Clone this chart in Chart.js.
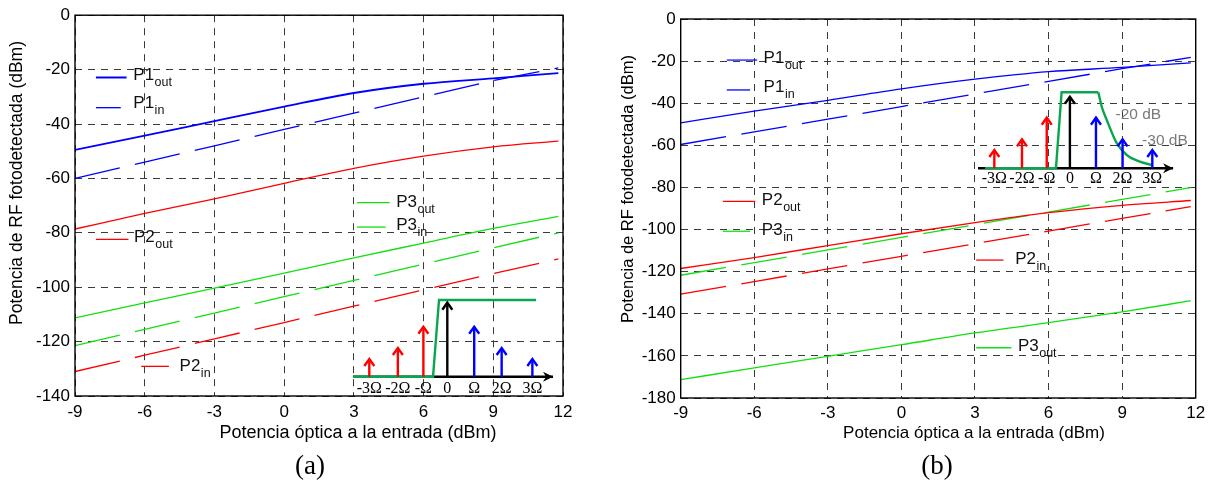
<!DOCTYPE html>
<html><head><meta charset="utf-8">
<script src="https://cdn.jsdelivr.net/npm/chart.js@4.4.1/dist/chart.umd.min.js"></script>
<style>
html,body{margin:0;padding:0;background:#fff;}
body{position:relative;width:1211px;height:483px;overflow:hidden;}
canvas{position:absolute;}
</style></head><body>
<canvas id="mainA" width="605" height="483" style="left:0px;top:0px"></canvas>
<canvas id="mainB" width="606" height="483" style="left:605px;top:0px"></canvas>
<canvas id="insetA" width="245" height="115" style="left:330px;top:285px"></canvas>
<canvas id="insetB" width="240" height="115" style="left:955px;top:75px"></canvas>
<script>
// ================= DATA =================
const X_POWER = [-9, -6, -3, 0, 3, 6, 9, 11.8];          // optical input power (dBm)
const X_RANGE = [-9, 12];
const X_TICK_STEP = 3;
const Y_TICK_STEP = 20;

// panel (a)
const A_Y_RANGE = [-140, 0];
const A_P1_OUT = [-49.5, -44.3, -38.9, -33.6, -28.6, -25.2, -23.2, -21.3];
const A_P1_IN  = [-60.0, -54.0, -48.0, -42.0, -36.0, -30.0, -24.0, -19.4];
const A_P2_OUT = [-78.6, -72.9, -67.5, -61.8, -56.3, -51.8, -48.4, -46.3];
const A_P2_IN  = [-131.0, -125.0, -119.0, -113.0, -107.0, -101.0, -95.0, -89.6];
const A_P3_OUT = [-111.3, -105.8, -100.3, -94.8, -89.2, -83.8, -78.4, -74.0];
const A_P3_IN  = [-121.5, -115.5, -109.5, -103.5, -97.5, -91.5, -85.5, -80.0];

// panel (b)
const B_Y_RANGE = [-180, 0];
const B_P1_OUT = [-49.3, -43.8, -38.6, -33.2, -28.6, -25.0, -23.0, -20.8];
const B_P1_IN  = [-59.6, -53.6, -47.6, -41.6, -35.6, -29.6, -23.6, -18.2];
const B_P2_OUT = [-118.5, -113.3, -107.6, -102.0, -96.7, -92.0, -88.5, -86.2];
const B_P2_IN  = [-130.7, -124.7, -118.7, -112.7, -106.7, -100.7, -94.7, -89.1];
const B_P3_OUT = [-171.3, -165.7, -160.2, -154.7, -149.1, -144.2, -139.1, -133.8];
const B_P3_IN  = [-121.7, -115.7, -109.7, -103.7, -97.7, -91.7, -85.7, -80.1];

// spectrum insets (schematic, relative units)
const OMEGA_POS    = [-3, -1.95, -1.01, -0.13, 0.86, 1.87, 3];
const OMEGA_LABELS = ['-3Ω', '-2Ω', '-Ω', '0', 'Ω', '2Ω', '3Ω'];
const A_TONE_LEVEL = [0.23, 0.374, 0.652, 0.965, 0.652, 0.374, 0.23];
const B_TONE_LEVEL = [0.24, 0.38, 0.666, 0.942, 0.666, 0.38, 0.24];
const A_AXIS_X     = [-3.6, 3.76];
const B_AXIS_X     = [-3.62, 3.79];
const A_FILTER_X   = [-3.6, -0.655, -0.435, 3.135];
const A_FILTER_Y   = [0, 0, 1, 1];
const B_FILTER_X   = [-3.35, -0.66, -0.445, 0.95];
const B_FILTER_Y   = [0, 0, 1, 1];
const B_ROLLOFF_X  = [0.95, 1.08, 1.27, 1.65, 2.03, 2.53, 2.98];
const B_ROLLOFF_Y  = [1, 0.81, 0.636, 0.33, 0.175, 0.087, 0.043];
const B_NOTES = [{text: '-20 dB', x: 2.47, y: 0.70}, {text: '-30 dB', x: 3.48, y: 0.36}];

// ================= STYLE / LAYOUT =================
const SANS  = "'Liberation Sans', Arial, Helvetica, sans-serif";
const SERIF = "'Liberation Serif', 'Times New Roman', Times, serif";
const BLUE = '#0000ff', RED = '#ff0000', GREEN = '#11e011', FILTER_GREEN = '#0aa64f';
const LINE_DASH = [46, 15.5];
const GRID_DASH = [7, 6];
const GRID_COLOR = '#3a3a3a';

const A_LEGEND = [
  {main: 'P1', sub: 'out', color: BLUE,  width: 2.0, x0: -8.10, x1: -6.78, y: -22.9,  tx: -6.49, ty: -23.7},
  {main: 'P1', sub: 'in',  color: BLUE,  width: 1.3, x0: -8.10, x1: -7.03, y: -34.0,  tx: -6.49, ty: -34.3},
  {main: 'P2', sub: 'out', color: RED,   width: 1.3, x0: -8.10, x1: -6.70, y: -82.4,  tx: -6.46, ty: -83.5},
  {main: 'P3', sub: 'out', color: GREEN, width: 1.3, x0: 3.13,  x1: 4.54,  y: -68.9,  tx: 4.82,  ty: -70.4},
  {main: 'P3', sub: 'in',  color: GREEN, width: 1.3, x0: 3.13,  x1: 4.37,  y: -77.9,  tx: 4.82,  ty: -79.1},
  {main: 'P2', sub: 'in',  color: RED,   width: 1.3, x0: -6.15, x1: -4.96, y: -129.1, tx: -4.50, ty: -130.9}
];
const B_LEGEND = [
  {main: 'P1', sub: 'out', color: BLUE,  width: 1.2, x0: -7.12, x1: -5.88, y: -19.5,  tx: -5.62, ty: -20.75},
  {main: 'P1', sub: 'in',  color: BLUE,  width: 1.3, x0: -7.12, x1: -6.17, y: -33.7,  tx: -5.62, ty: -34.7},
  {main: 'P2', sub: 'out', color: RED,   width: 1.3, x0: -7.28, x1: -5.96, y: -86.6,  tx: -5.69, ty: -88.2},
  {main: 'P3', sub: 'in',  color: GREEN, width: 1.3, x0: -7.28, x1: -6.17, y: -100.8, tx: -5.69, ty: -102.4},
  {main: 'P2', sub: 'in',  color: RED,   width: 1.3, x0: 3.05,  x1: 4.16,  y: -114.5, tx: 4.64,  ty: -116.5},
  {main: 'P3', sub: 'out', color: GREEN, width: 1.5, x0: 3.05,  x1: 4.48,  y: -156.1, tx: 4.75,  ty: -157.7}
];

const Y_TITLE = 'Potencia de RF fotodetectada (dBm)';
const X_TITLE = 'Potencia óptica a la entrada (dBm)';

// ================= PLUGINS =================
const decoPlugin = {
  id: 'deco',
  afterDraw(chart, args, o) {
    const {ctx, chartArea: a} = chart;
    const sx = chart.scales.x, sy = chart.scales.y;
    ctx.save();
    ctx.setLineDash([]);
    ctx.strokeStyle = '#000';
    ctx.lineWidth = 1.4;
    ctx.strokeRect(a.left, a.top, a.right - a.left, a.bottom - a.top);
    // in-plot legend
    for (const e of o.legend) {
      const y = sy.getPixelForValue(e.y);
      ctx.beginPath();
      ctx.moveTo(sx.getPixelForValue(e.x0), y);
      ctx.lineTo(sx.getPixelForValue(e.x1), y);
      ctx.strokeStyle = e.color; ctx.lineWidth = e.width; ctx.stroke();
      const tx = sx.getPixelForValue(e.tx), ty = sy.getPixelForValue(e.ty);
      ctx.fillStyle = '#111';
      ctx.textAlign = 'left'; ctx.textBaseline = 'alphabetic';
      ctx.font = '17px ' + SANS;
      ctx.fillText(e.main, tx, ty);
      const w = ctx.measureText(e.main).width;
      ctx.font = '12.5px ' + SANS;
      ctx.fillText(e.sub, tx + w + 0.5, ty + 6);
    }
    // axis titles
    ctx.fillStyle = '#000';
    ctx.textAlign = 'center'; ctx.textBaseline = 'middle';
    ctx.font = o.xTitleFont;
    ctx.fillText(X_TITLE, o.xTitle[0], o.xTitle[1]);
    ctx.save();
    ctx.font = o.yTitleFont;
    ctx.translate(o.yTitle[0], o.yTitle[1]);
    ctx.rotate(-Math.PI / 2);
    ctx.fillText(Y_TITLE, 0, 0);
    ctx.restore();
    // panel label
    ctx.font = o.panelFont;
    ctx.fillText(o.panel, o.panelPos[0], o.panelPos[1]);
    ctx.restore();
  }
};

function chevronUp(ctx, px, py, color) {
  ctx.beginPath();
  ctx.moveTo(px - 5, py + 7);
  ctx.lineTo(px, py);
  ctx.lineTo(px + 5, py + 7);
  ctx.strokeStyle = color; ctx.lineWidth = 2.4; ctx.lineJoin = 'miter'; ctx.lineCap = 'butt';
  ctx.stroke();
}
function arrowRight(ctx, px, py, color) {
  ctx.beginPath();
  ctx.moveTo(px, py);
  ctx.lineTo(px - 10, py - 5);
  ctx.lineTo(px - 7, py);
  ctx.lineTo(px - 10, py + 5);
  ctx.closePath();
  ctx.fillStyle = color; ctx.fill();
}

const insetPlugin = {
  id: 'insetDeco',
  afterDatasetsDraw(chart, args, o) {
    const {ctx} = chart;
    ctx.save();
    chart.data.datasets.forEach((ds, i) => {
      const meta = chart.getDatasetMeta(i);
      if (ds.head === 'up') {
        meta.data.forEach((pt, j) => {
          if (ds.data[j].y !== null && ds.data[j].y > 0) chevronUp(ctx, pt.x, pt.y, ds.borderColor);
        });
      } else if (ds.head === 'right') {
        const pt = meta.data[meta.data.length - 1];
        arrowRight(ctx, pt.x, pt.y, ds.borderColor);
      }
    });
    if (o.notes) {
      ctx.fillStyle = '#7a7a7a';
      ctx.font = '15.5px ' + SANS;
      ctx.textAlign = 'center'; ctx.textBaseline = 'middle';
      for (const n of o.notes) {
        ctx.fillText(n.text, chart.scales.x.getPixelForValue(n.x), chart.scales.y.getPixelForValue(n.y));
      }
    }
    ctx.restore();
  }
};

// ================= BUILDERS =================
function series(xs, ys, color, dashed, width) {
  return {
    data: xs.map((x, i) => ({x, y: ys[i]})),
    borderColor: color, borderWidth: width,
    borderDash: dashed ? LINE_DASH : [],
    borderCapStyle: 'butt',
    pointRadius: 0, pointHoverRadius: 0, fill: false,
    cubicInterpolationMode: dashed ? 'default' : 'monotone',
    tension: 0
  };
}

function mainChart(id, area, yRange, datasets, deco) {
  const cv = document.getElementById(id);
  const W = cv.width, H = cv.height;
  const tickFont = {family: SANS, size: 17};
  return new Chart(cv, {
    type: 'line',
    data: {datasets},
    options: {
      responsive: false, animation: false, devicePixelRatio: 1, events: [],
      layout: {padding: {left: 0, top: area.top, right: W - area.right, bottom: 0}},
      plugins: {legend: {display: false}, tooltip: {enabled: false}, deco},
      scales: {
        x: {
          type: 'linear', min: X_RANGE[0], max: X_RANGE[1],
          ticks: {stepSize: X_TICK_STEP, padding: area.xPad, color: '#000', font: tickFont, maxRotation: 0, autoSkip: false},
          grid: {color: GRID_COLOR, lineWidth: 1, drawTicks: false},
          border: {display: false, dash: GRID_DASH},
          afterFit(s) { s.height = H - area.bottom; }
        },
        y: {
          type: 'linear', min: yRange[0], max: yRange[1],
          ticks: {stepSize: Y_TICK_STEP, padding: 5, color: '#000', font: tickFont},
          grid: {color: GRID_COLOR, lineWidth: 1, drawTicks: false},
          border: {display: false, dash: GRID_DASH},
          afterFit(s) { s.width = area.left; }
        }
      }
    },
    plugins: [decoPlugin]
  });
}

function toneData(idx, levels) {
  const d = [];
  idx.forEach(i => {
    d.push({x: OMEGA_POS[i], y: 0}, {x: OMEGA_POS[i], y: levels[i]}, {x: OMEGA_POS[i], y: null});
  });
  return d;
}

function insetChart(id, area, xRange, levels, filters, axisX, labelPad, notes) {
  const cv = document.getElementById(id);
  const W = cv.width, H = cv.height;
  const base = {pointRadius: 0, pointHoverRadius: 0, fill: false, clip: false, spanGaps: false, borderCapStyle: 'butt', tension: 0};
  const datasets = [
    Object.assign({}, base, {data: toneData([0, 1, 2], levels), borderColor: RED, borderWidth: 2.4, head: 'up'}),
    Object.assign({}, base, {data: toneData([3], levels), borderColor: '#000', borderWidth: 2.4, head: 'up'}),
    Object.assign({}, base, {data: toneData([4, 5, 6], levels), borderColor: BLUE, borderWidth: 2.4, head: 'up'})
  ];
  filters.forEach(f => {
    datasets.push(Object.assign({}, base, {
      data: f.x.map((x, i) => ({x, y: f.y[i]})), borderColor: FILTER_GREEN, borderWidth: 2.4,
      borderJoinStyle: 'miter', cubicInterpolationMode: f.smooth ? 'monotone' : 'default'
    }));
  });
  datasets.push(Object.assign({}, base, {
    data: axisX.map(x => ({x, y: 0})), borderColor: '#000', borderWidth: 2.4, head: 'right'
  }));
  return new Chart(cv, {
    type: 'line',
    data: {datasets},
    options: {
      responsive: false, animation: false, devicePixelRatio: 1, events: [],
      layout: {padding: {left: area.left, top: area.top, right: W - area.right, bottom: 0}},
      plugins: {legend: {display: false}, tooltip: {enabled: false}, insetDeco: {notes}},
      scales: {
        x: {
          type: 'linear', min: xRange[0], max: xRange[1],
          afterBuildTicks(s) { s.ticks = OMEGA_POS.map(v => ({value: v})); },
          ticks: {
            padding: labelPad, color: '#000', font: {family: SERIF, size: 16},
            autoSkip: false, maxRotation: 0,
            callback(v, i) { return OMEGA_LABELS[i]; }
          },
          grid: {display: false, drawTicks: false},
          border: {display: false},
          afterFit(s) { s.height = H - area.bottom; }
        },
        y: {type: 'linear', min: 0, max: 1, display: false}
      }
    },
    plugins: [insetPlugin]
  });
}

// ================= CHARTS =================
mainChart('mainA', {left: 75, right: 563, top: 12, bottom: 396, xPad: 6}, A_Y_RANGE, [
  series(X_POWER, A_P1_OUT, BLUE, false, 1.8),
  series(X_POWER, A_P1_IN, BLUE, true, 1.3),
  series(X_POWER, A_P2_OUT, RED, false, 1.3),
  series(X_POWER, A_P2_IN, RED, true, 1.3),
  series(X_POWER, A_P3_OUT, GREEN, false, 1.3),
  series(X_POWER, A_P3_IN, GREEN, true, 1.3)
], {
  legend: A_LEGEND, xTitleFont: '18px ' + SANS, yTitleFont: '17.5px ' + SANS, panelFont: '27px ' + SERIF,
  xTitle: [358, 433], yTitle: [17, 183], panel: '(a)', panelPos: [310, 467]
});

mainChart('mainB', {left: 75.7, right: 590.7, top: 19, bottom: 398, xPad: 5.5}, B_Y_RANGE, [
  series(X_POWER, B_P1_OUT, BLUE, false, 1.3),
  series(X_POWER, B_P1_IN, BLUE, true, 1.3),
  series(X_POWER, B_P2_OUT, RED, false, 1.3),
  series(X_POWER, B_P2_IN, RED, true, 1.3),
  series(X_POWER, B_P3_OUT, GREEN, false, 1.3),
  series(X_POWER, B_P3_IN, GREEN, true, 1.3)
], {
  legend: B_LEGEND, xTitleFont: '17px ' + SANS, yTitleFont: '16.5px ' + SANS, panelFont: '27px ' + SERIF,
  xTitle: [369, 433], yTitle: [23, 189], panel: '(b)', panelPos: [332, 467]
});

insetChart('insetA', {left: 23.0, right: 224.1, top: 15, bottom: 91.7}, [-3.6, 3.8], A_TONE_LEVEL,
  [{x: A_FILTER_X, y: A_FILTER_Y}], A_AXIS_X, 2.5, null);

insetChart('insetB', {left: 20.9, right: 219.7, top: 17.3, bottom: 93.3}, [-3.7, 3.85], B_TONE_LEVEL,
  [{x: B_FILTER_X, y: B_FILTER_Y}, {x: B_ROLLOFF_X, y: B_ROLLOFF_Y, smooth: true}], B_AXIS_X, 1.3, B_NOTES);
</script>
</body></html>
